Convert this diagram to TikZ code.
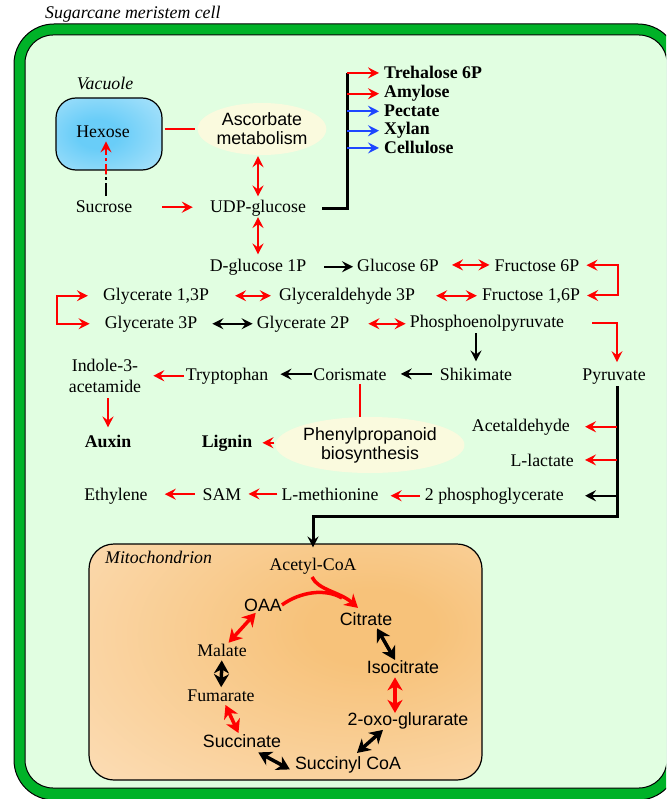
\documentclass[tikz,border=0pt]{standalone}
\usepackage{fontspec}
\setmainfont{Liberation Serif}
\setsansfont{Liberation Sans}
\usepackage{xcolor}
\usetikzlibrary{arrows.meta,calc,positioning,shapes.geometric}

\definecolor{wallgreen}{RGB}{0,178,40}
\definecolor{cytogreen}{RGB}{225,254,225}
\definecolor{bubblecol}{RGB}{250,250,222}
\definecolor{vacin}{RGB}{105,205,248}
\definecolor{vacout}{RGB}{200,236,252}
\definecolor{mitoin}{RGB}{247,194,122}
\definecolor{mitoout}{RGB}{253,229,200}
\definecolor{xblue}{RGB}{30,70,255}

\pgfdeclareradialshading{vacshade}{\pgfpoint{-6bp}{0bp}}{color(0bp)=(vacin); color(10bp)=(vacin); color(50bp)=(vacout); color(100bp)=(vacout)}
\pgfdeclareradialshading{mitoshade}{\pgfpoint{12bp}{8bp}}{color(0bp)=(mitoin); color(8bp)=(mitoin); color(55bp)=(mitoout); color(100bp)=(mitoout)}

\begin{document}
\begin{tikzpicture}[x=1pt, y=-1pt,
    >={Stealth[length=11pt,width=11pt,inset=4pt]},
    lbl/.style={font=\fontsize{17.8}{20}\selectfont, inner sep=0pt, anchor=base},
    slbl/.style={lbl, font=\sffamily\fontsize{17.8}{20}\selectfont},
    prod/.style={lbl, font=\bfseries\fontsize{17.8}{20}\selectfont},
    ttl/.style={lbl, font=\itshape\fontsize{17.8}{20}\selectfont},
    bubble/.style={ellipse, fill=bubblecol, inner sep=0pt, align=center,
        font=\sffamily\fontsize{17.8}{19}\selectfont},
    ra/.style={red, line width=2pt, ->},
    rd/.style={red, line width=2pt, <->},
    ka/.style={black, line width=2pt, ->},
    kd/.style={black, line width=2pt, <->},
    ba/.style={xblue, line width=2pt, ->},
    wire/.style={black, line width=3pt},
    tred/.style={red, line width=3.5pt, <->,
        >={Stealth[length=13pt,width=15pt,inset=4pt]}},
    tblk/.style={tred, black}]

    % page
    \path[use as bounding box] (0,0) rectangle (666,799);
    \fill[white] (0,0) rectangle (666,799);
    \clip (0,0) rectangle (666,799);

    % cell wall and cytoplasm
    \draw[fill=wallgreen, line width=1pt, rounded corners=40pt] (14,24) rectangle (678,800);
    \draw[fill=cytogreen, line width=1pt, rounded corners=28pt] (25,35) rectangle (667,788);
    \node[ttl, anchor=base west] (cell) at (45,19) {Sugarcane meristem cell};

    % vacuole
    \node[draw, line width=1.2pt, rounded corners=20pt, shade, shading=vacshade,
        minimum width=106pt, minimum height=72pt] (vac) at (109,134) {};
    \node[ttl] (vaclbl) at (105,90) {Vacuole};
    \node[lbl] (hexose) at (103,138) {Hexose};

    % mitochondrion
    \node[draw, line width=1.2pt, rounded corners=25pt, shade, shading=mitoshade,
        minimum width=393pt, minimum height=236pt] (mito) at (285.5,662) {};
    \node[ttl, anchor=base west] (mitolbl) at (105,563) {Mitochondrion};

    % bubbles
    \node[bubble, minimum width=125pt, minimum height=52pt] (asc) at (262,129) {Ascorbate\\metabolism};
    \node[bubble, minimum width=154pt, minimum height=56pt] (pheno) at (370,445) {Phenylpropanoid\\biosynthesis};

    % sugars
    \node[lbl] (sucrose) at (104,213) {Sucrose};
    \node[lbl] (udp) at (258,213) {UDP-glucose};
    \node[prod, anchor=base west] (tre) at (384,79) {Trehalose 6P};
    \node[prod, anchor=base west] (amy) at (384,98) {Amylose};
    \node[prod, anchor=base west] (pec) at (384,117) {Pectate};
    \node[prod, anchor=base west] (xyl) at (384,135) {Xylan};
    \node[prod, anchor=base west] (cel) at (384,154) {Cellulose};

    % glycolysis
    \node[lbl] (dglc) at (258,271) {D-glucose 1P};
    \node[lbl] (g6p) at (398,271) {Glucose 6P};
    \node[lbl] (f6p) at (537,271) {Fructose 6P};
    \node[lbl] (g13p) at (156,300) {Glycerate 1,3P};
    \node[lbl] (gap3p) at (347,300) {Glyceraldehyde 3P};
    \node[lbl] (f16p) at (531,300) {Fructose 1,6P};
    \node[lbl] (g3p) at (151,328) {Glycerate 3P};
    \node[lbl] (g2p) at (303,328) {Glycerate 2P};
    \node[lbl] (pep) at (487,327) {Phosphoenolpyruvate};

    % shikimate and others
    \node[lbl, anchor=center, align=center, font=\fontsize{17.8}{21}\selectfont] (indole) at (105,375.5) {Indole-3-\\acetamide};
    \node[lbl] (trp) at (227,380) {Tryptophan};
    \node[lbl] (cor) at (350,380) {Corismate};
    \node[lbl] (shik) at (476,380) {Shikimate};
    \node[lbl] (pyr) at (614,380) {Pyruvate};
    \node[prod] (auxin) at (108,447) {Auxin};
    \node[prod] (lignin) at (227,447) {Lignin};
    \node[lbl, anchor=base east] (acet) at (570,431) {Acetaldehyde};
    \node[lbl, anchor=base east] (llac) at (574,466) {L-lactate};
    \node[lbl, anchor=base east] (pg2) at (564,500) {2 phosphoglycerate};
    \node[lbl] (met) at (330,500) {L-methionine};
    \node[lbl] (sam) at (222,500) {SAM};
    \node[lbl] (eth) at (116,500) {Ethylene};

    % TCA cycle
    \node[lbl] (acoa) at (313,570) {Acetyl-CoA};
    \node[slbl] (oaa) at (263,611) {OAA};
    \node[slbl] (cit) at (366,625) {Citrate};
    \node[slbl] (iso) at (403,673) {Isocitrate};
    \node[slbl] (oxo) at (408,725) {2-oxo-glurarate};
    \node[slbl] (succoa) at (348,769) {Succinyl CoA};
    \node[slbl] (succ) at (242,747) {Succinate};
    \node[lbl] (mal) at (222,656) {Malate};
    \node[lbl] (fum) at (221,701) {Fumarate};

    % bends
    \coordinate (dsplit) at (106,174);
    \coordinate (bx) at (347,207);
    \coordinate (fk) at (618,280);
    \coordinate (gk) at (57,310);
    \coordinate (pcol) at (617,516);

    % sucrose, hexose, ascorbate
    \draw[black, line width=2pt, dash pattern=on 13pt off 3pt on 3pt off 3pt, shorten <=5pt] (dsplit |- sucrose.north) -- (dsplit);
    \draw[red, line width=2pt, dash pattern=on 10pt off 3pt on 3pt off 3pt, ->, shorten >=3pt] (dsplit) -- (dsplit |- hexose.south);
    \draw[ra, shorten <=30pt, shorten >=17pt] (sucrose.east) -- (sucrose.east -| udp.west);
    \draw[red, line width=2pt, shorten <=2pt, shorten >=2pt] (vac.east |- asc.west) -- (asc.west);
    \draw[rd, shorten <=1pt, shorten >=4pt] (udp.north |- asc.south) -- (udp.north);
    \draw[rd, shorten >=4pt] (udp.south) -- (dglc.north);

    % UDP-glucose products
    \draw[wire, shorten <=16pt] (udp.east) -| (bx |- tre.west);
    \foreach \p in {tre,amy}
        \draw[ra, shorten >=5pt] (bx |- \p.west) -- (\p.west);
    \foreach \p in {pec,xyl,cel}
        \draw[ba, shorten >=5pt] (bx |- \p.west) -- (\p.west);

    % glycolysis arrows
    \draw[ka, shorten <=18pt, shorten >=4pt] (dglc.east) -- (dglc.east -| g6p.west);
    \draw[rd, shorten <=13pt, shorten >=5pt] (g6p.east) -- (g6p.east -| f6p.west);
    \draw[rd, shorten <=7pt, shorten >=7pt] (f6p.east) -| (fk) |- (f16p.east);
    \draw[rd, shorten <=26pt, shorten >=8pt] (g13p.east) -- (g13p.east -| gap3p.west);
    \draw[rd, shorten <=21pt, shorten >=5pt] (gap3p.east) -- (gap3p.east -| f16p.west);
    \draw[rd, shorten <=15pt, shorten >=15pt] (g13p.west) -| (gk) |- (g3p.west);
    \draw[kd, shorten <=15pt, shorten >=4pt] (g3p.east) -- (g3p.east -| g2p.west);
    \draw[rd, shorten <=19pt, shorten >=4pt] (g2p.east) -- (g2p.east -| pep.west);
    \draw[ka, shorten <=2pt, shorten >=6pt] (pep.south -| shik.north) -- (shik.north);
    \draw[ra, shorten <=28pt, shorten >=6pt] (pep.east) -| (pcol |- pyr.north);

    % shikimate pathway
    \draw[ka, shorten <=8pt, shorten >=14pt] (shik.west) -- (shik.west -| cor.east);
    \draw[ka, shorten <=1pt, shorten >=12pt] (cor.west) -- (cor.west -| trp.east);
    \draw[ra, shorten <=2pt, shorten >=12pt] (trp.west) -- (trp.west -| indole.east);
    \draw[ra, shorten <=6pt, shorten >=7pt] (indole.south -| auxin.north) -- (auxin.north);
    \draw[red, line width=2pt, shorten <=4pt] ([xshift=10pt]cor.south) -- ([xshift=-10pt]pheno.north);
    \draw[ra, shorten <=1pt, shorten >=10pt] (lignin.east -| pheno.west) -- (lignin.east);

    % pyruvate branch
    \draw[wire, ->, shorten <=2pt, shorten >=10pt] (pcol |- pyr.south) -- (pcol) -| (acoa.north);
    \draw[ra, shorten >=15pt] (pcol |- acet.east) -- (acet.east);
    \draw[ra, shorten >=11pt] (pcol |- llac.east) -- (llac.east);
    \draw[ka, shorten >=21pt] (pcol |- pg2.east) -- (pg2.east);
    \draw[ra, shorten <=5pt, shorten >=12pt] (pg2.west) -- (pg2.west -| met.east);
    \draw[ra, shorten <=4pt, shorten >=7pt] (met.west) -- (met.west -| sam.east);
    \draw[ra, shorten <=8pt, shorten >=17pt] (sam.west) -- (sam.west -| eth.east);

    % TCA arrows
    \draw[red, line width=3.5pt] (oaa.east) .. controls (300,592) and (325,588) .. (342,598);
    \draw[red, line width=3.5pt, -{Stealth[length=13pt,width=15pt,inset=4pt]}]
        ($(acoa.south)+(-1,3)$) .. controls (318,590) and (340,592) .. ($(cit.north)+(-8,-4)$);
    \draw[tred, shorten <=2pt, shorten >=1pt] (oaa) -- (mal);
    \draw[tblk, shorten <=4pt, shorten >=2pt] (mal) -- (fum);
    \draw[tred, shorten <=4pt, shorten >=1pt] (fum) -- (succ);
    \draw[tblk] ($(succ.south east)+(-23,5)$) -- ($(succoa.west)+(-5,5)$);
    \draw[tblk] ($(succoa.north)+(9,-3)$) -- ($(oxo.south)+(-25,1)$);
    \draw[tred] ($(iso.south)+(-8,4)$) -- ($(oxo.north)+(-13,1)$);
    \draw[tblk] ($(cit.south)+(11,3)$) -- ($(iso.north)+(-8,0)$);
\end{tikzpicture}
\end{document}
